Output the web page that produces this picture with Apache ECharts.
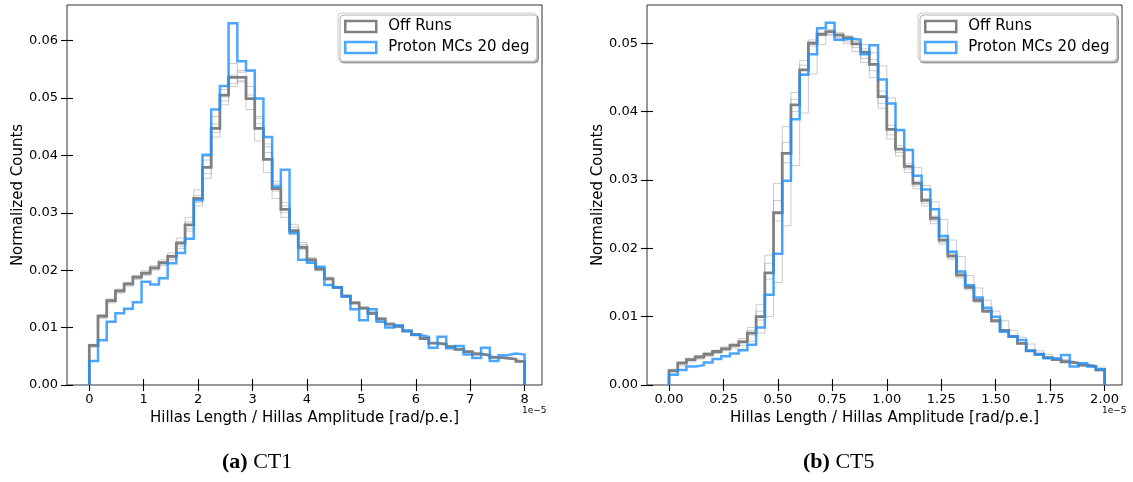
<!DOCTYPE html>
<html><head><meta charset="utf-8">
<script src="https://cdn.jsdelivr.net/npm/echarts@6/dist/echarts.min.js"></script>
<style>html,body{margin:0;padding:0;background:#fff}#c{width:1133px;height:482px}</style>
</head><body><div id="c"></div>
<script>
// ---------- data ----------
const ct1BinStart = 0, ct1BinWidth = 0.16;   // units of 1e-5 rad/p.e.
const ct5BinStart = 0, ct5BinWidth = 0.04;
const ct1XTicks = [0, 1, 2, 3, 4, 5, 6, 7, 8];
const ct1YTicks = [0, 0.01, 0.02, 0.03, 0.04, 0.05, 0.06];
const ct5XTicks = [0, 0.25, 0.5, 0.75, 1, 1.25, 1.5, 1.75, 2];
const ct5YTicks = [0, 0.01, 0.02, 0.03, 0.04, 0.05];
const seriesNames = ['Off Runs', 'Proton MCs 20 deg'];
const xAxisTitle = 'Hillas Length / Hillas Amplitude [rad/p.e.]';
const yAxisTitle = 'Normalized Counts';

const ct1OffRuns = [0.0069,0.0120,0.0147,0.0164,0.0176,0.0188,0.0195,0.0204,0.0213,0.0224,0.0247,0.0279,0.0325,0.0379,0.0447,0.0505,0.0536,0.0536,0.0499,0.0447,0.0393,0.0342,0.0306,0.0269,0.0240,0.0218,0.0202,0.0185,0.0170,0.0155,0.0143,0.0134,0.0125,0.0115,0.0106,0.0102,0.0094,0.0088,0.0081,0.0073,0.0071,0.0067,0.0062,0.0058,0.0054,0.0052,0.0048,0.0047,0.0045,0.0041];
const ct1Proton = [0.0042,0.0078,0.0110,0.0125,0.0133,0.0144,0.0180,0.0175,0.0186,0.0212,0.0230,0.0255,0.0322,0.0401,0.0480,0.0521,0.0630,0.0564,0.0548,0.0499,0.0432,0.0346,0.0375,0.0265,0.0218,0.0213,0.0206,0.0174,0.0170,0.0154,0.0132,0.0113,0.0132,0.0110,0.0100,0.0104,0.0095,0.0087,0.0084,0.0065,0.0084,0.0064,0.0068,0.0053,0.0047,0.0065,0.0042,0.0052,0.0055,0.0053];
const ct1RunA = [0.0071,0.0123,0.0150,0.0167,0.0179,0.0191,0.0199,0.0208,0.0218,0.0230,0.0256,0.0292,0.0340,0.0398,0.0468,0.0515,0.0540,0.0528,0.0480,0.0425,0.0370,0.0325,0.0292,0.0262,0.0236,0.0215,0.0199,0.0183,0.0168,0.0153,0.0141,0.0132,0.0123,0.0114,0.0105,0.0100,0.0093,0.0087,0.0080,0.0073,0.0070,0.0066,0.0061,0.0057,0.0053,0.0051,0.0047,0.0046,0.0044,0.0040];
const ct1RunB = [0.0066,0.0116,0.0143,0.0160,0.0172,0.0184,0.0191,0.0200,0.0208,0.0218,0.0238,0.0268,0.0312,0.0360,0.0432,0.0488,0.0520,0.0548,0.0545,0.0468,0.0420,0.0355,0.0318,0.0280,0.0248,0.0222,0.0205,0.0188,0.0172,0.0157,0.0145,0.0136,0.0127,0.0117,0.0108,0.0103,0.0095,0.0089,0.0082,0.0074,0.0072,0.0068,0.0063,0.0059,0.0055,0.0053,0.0049,0.0048,0.0046,0.0042];
const ct1RunC = [0.0068,0.0121,0.0148,0.0165,0.0177,0.0189,0.0196,0.0205,0.0215,0.0226,0.0250,0.0284,0.0330,0.0392,0.0455,0.0502,0.0560,0.0545,0.0505,0.0455,0.0405,0.0338,0.0300,0.0265,0.0238,0.0217,0.0201,0.0184,0.0169,0.0154,0.0142,0.0133,0.0124,0.0114,0.0105,0.0101,0.0093,0.0087,0.0081,0.0072,0.0070,0.0066,0.0061,0.0057,0.0054,0.0051,0.0048,0.0046,0.0045,0.0041];
const ct1RunD = [0.0067,0.0118,0.0145,0.0162,0.0174,0.0186,0.0193,0.0202,0.0211,0.0221,0.0242,0.0272,0.0318,0.0368,0.0440,0.0495,0.0525,0.0530,0.0520,0.0465,0.0415,0.0350,0.0312,0.0275,0.0245,0.0220,0.0204,0.0187,0.0171,0.0156,0.0144,0.0135,0.0126,0.0116,0.0107,0.0103,0.0095,0.0089,0.0082,0.0074,0.0072,0.0068,0.0063,0.0058,0.0055,0.0052,0.0049,0.0047,0.0045,0.0042];

const ct5OffRuns = [0.0021,0.0032,0.0037,0.0041,0.0045,0.0049,0.0053,0.0058,0.0063,0.0076,0.0100,0.0164,0.0252,0.0339,0.0410,0.0461,0.0500,0.0513,0.0517,0.0512,0.0508,0.0499,0.0487,0.0469,0.0422,0.0374,0.0345,0.0320,0.0295,0.0270,0.0244,0.0212,0.0189,0.0161,0.0143,0.0124,0.0108,0.0094,0.0080,0.0071,0.0061,0.0050,0.0045,0.0040,0.0037,0.0034,0.0032,0.0029,0.0027,0.0022];
const ct5Proton = [0.0015,0.0022,0.0027,0.0029,0.0033,0.0038,0.0042,0.0046,0.0051,0.0059,0.0084,0.0132,0.0192,0.0299,0.0389,0.0454,0.0484,0.0522,0.0530,0.0505,0.0507,0.0505,0.0484,0.0497,0.0447,0.0412,0.0373,0.0344,0.0306,0.0286,0.0257,0.0218,0.0195,0.0166,0.0146,0.0128,0.0113,0.0100,0.0078,0.0071,0.0066,0.0050,0.0045,0.0039,0.0038,0.0044,0.0027,0.0032,0.0027,0.0023];
const ct5RunA = [0.0023,0.0034,0.0039,0.0043,0.0047,0.0051,0.0056,0.0061,0.0068,0.0084,0.0118,0.0190,0.0295,0.0378,0.0428,0.0475,0.0505,0.0514,0.0512,0.0505,0.0500,0.0488,0.0472,0.0450,0.0405,0.0360,0.0335,0.0311,0.0287,0.0262,0.0236,0.0206,0.0184,0.0157,0.0139,0.0121,0.0106,0.0092,0.0079,0.0070,0.0060,0.0049,0.0044,0.0039,0.0036,0.0033,0.0031,0.0028,0.0026,0.0021];
const ct5RunB = [0.0020,0.0031,0.0036,0.0040,0.0044,0.0048,0.0052,0.0057,0.0062,0.0073,0.0095,0.0155,0.0240,0.0325,0.0400,0.0455,0.0496,0.0511,0.0520,0.0514,0.0510,0.0503,0.0492,0.0476,0.0430,0.0380,0.0350,0.0324,0.0298,0.0273,0.0247,0.0215,0.0192,0.0164,0.0145,0.0126,0.0110,0.0095,0.0081,0.0072,0.0062,0.0051,0.0046,0.0041,0.0037,0.0035,0.0032,0.0029,0.0027,0.0022];
const ct5RunC = [0.0022,0.0033,0.0038,0.0042,0.0046,0.0050,0.0054,0.0059,0.0065,0.0080,0.0108,0.0178,0.0270,0.0355,0.0418,0.0468,0.0502,0.0516,0.0515,0.0508,0.0503,0.0494,0.0478,0.0460,0.0412,0.0366,0.0340,0.0316,0.0291,0.0266,0.0240,0.0209,0.0186,0.0159,0.0141,0.0122,0.0107,0.0093,0.0079,0.0070,0.0060,0.0049,0.0044,0.0040,0.0036,0.0034,0.0031,0.0028,0.0026,0.0021];
const ct5RunD = [0.0018,0.0028,0.0034,0.0038,0.0042,0.0046,0.0050,0.0054,0.0058,0.0064,0.0076,0.0100,0.0150,0.0233,0.0321,0.0398,0.0455,0.0498,0.0512,0.0516,0.0511,0.0507,0.0498,0.0486,0.0467,0.0420,0.0372,0.0345,0.0318,0.0292,0.0268,0.0242,0.0212,0.0188,0.0160,0.0142,0.0124,0.0108,0.0094,0.0080,0.0070,0.0060,0.0050,0.0045,0.0040,0.0037,0.0034,0.0031,0.0029,0.0026];

// ---------- helpers ----------
function stepPoints(start, width, vals) {
  const pts = [[start, 0]];
  vals.forEach((v, i) => pts.push([start + i * width, v]));
  const end = start + vals.length * width;
  pts.push([end, vals[vals.length - 1]]);
  pts.push([end, 0]);
  return pts;
}
const FONT = 'DejaVu Sans';
const GRAY = '#808080';
const BLUE = 'rgba(30,144,255,0.8)';
const THIN = 'rgba(128,128,128,0.4)';

function histSeries(name, data, gi, color, width, z) {
  return {
    type: 'line', name: name, xAxisIndex: gi * 2, yAxisIndex: gi * 2,
    data: data, step: 'end', symbol: 'none', silent: true, z: z,
    lineStyle: { color: color, width: width, join: 'miter' },
    itemStyle: { color: color }, emphasis: { disabled: true }
  };
}
function fmt(dec) { return v => v.toFixed(dec); }

function axesFor(gi, xmin, xmax, xticks, xdec, ymax, yticks) {
  const common = { gridIndex: gi, type: 'value', splitLine: { show: false }, axisLine: { show: false, onZero: false } };
  const tickStyle = { color: '#000', width: 1.1 };
  const xs = [
    Object.assign({}, common, {
      position: 'bottom', min: xmin, max: xmax,
      axisTick: { show: true, customValues: xticks, length: 6, lineStyle: tickStyle },
      axisLabel: { show: true, customValues: xticks, formatter: fmt(xdec), margin: 8, color: '#000', fontFamily: FONT, fontSize: 13 },
      name: xAxisTitle, nameLocation: 'middle', nameGap: 25,
      nameTextStyle: { fontFamily: FONT, fontSize: 15, color: '#000' }
    }),
    Object.assign({}, common, {
      position: 'bottom', min: xmin, max: xmax,
      axisTick: { show: true, inside: true, customValues: xticks, length: 6, lineStyle: tickStyle },
      axisLabel: { show: false }
    })
  ];
  const ys = [
    Object.assign({}, common, {
      position: 'left', min: 0, max: ymax,
      axisTick: { show: true, customValues: yticks, length: 6, lineStyle: tickStyle },
      axisLabel: { show: true, customValues: yticks, formatter: fmt(2), margin: 9, color: '#000', fontFamily: FONT, fontSize: 13 },
      name: yAxisTitle, nameLocation: 'middle', nameGap: 40,
      nameTextStyle: { fontFamily: FONT, fontSize: 15, color: '#000' }
    }),
    Object.assign({}, common, {
      position: 'left', min: 0, max: ymax,
      axisTick: { show: true, inside: true, customValues: yticks, length: 6, lineStyle: tickStyle },
      axisLabel: { show: false }
    })
  ];
  return { xs, ys };
}

const a1 = axesFor(0, -0.41, 8.32, ct1XTicks, 0, 0.0662, ct1YTicks);
const a2 = axesFor(1, -0.101, 2.08, ct5XTicks, 2, 0.0556, ct5YTicks);

function legendFor(left) {
  return {
    left: left, top: 13, orient: 'vertical', icon: 'rect',
    itemWidth: 31, itemHeight: 11, itemGap: 6,
    padding: [6, 7, 6, 6],
    backgroundColor: '#ffffff', borderColor: '#cccccc', borderWidth: 1, borderRadius: 4,
    shadowColor: 'rgba(0,0,0,0.3)', shadowOffsetX: 2, shadowOffsetY: 2, shadowBlur: 0,
    selectedMode: false,
    textStyle: { fontFamily: FONT, fontSize: 15, color: '#000', padding: [0, 0, 0, 7] },
    data: [
      { name: seriesNames[0], itemStyle: { color: 'rgba(255,255,255,0)', borderColor: GRAY, borderWidth: 2.5 } },
      { name: seriesNames[1], itemStyle: { color: 'rgba(255,255,255,0)', borderColor: BLUE, borderWidth: 2.5 } }
    ]
  };
}

const series = [];
[ct1RunA, ct1RunB, ct1RunC, ct1RunD].forEach(r => series.push(histSeries('run', stepPoints(ct1BinStart, ct1BinWidth, r), 0, THIN, 1, 1)));
series.push(histSeries(seriesNames[0], stepPoints(ct1BinStart, ct1BinWidth, ct1OffRuns), 0, GRAY, 2.8, 2));
series.push(histSeries(seriesNames[1], stepPoints(ct1BinStart, ct1BinWidth, ct1Proton), 0, BLUE, 2.5, 3));
[ct5RunA, ct5RunB, ct5RunC, ct5RunD].forEach(r => series.push(histSeries('run', stepPoints(ct5BinStart, ct5BinWidth, r), 1, THIN, 1, 1)));
series.push(histSeries(seriesNames[0], stepPoints(ct5BinStart, ct5BinWidth, ct5OffRuns), 1, GRAY, 2.8, 2));
series.push(histSeries(seriesNames[1], stepPoints(ct5BinStart, ct5BinWidth, ct5Proton), 1, BLUE, 2.5, 3));

const chart = echarts.init(document.getElementById('c'), null, { renderer: 'canvas' });
chart.setOption({
  animation: false,
  backgroundColor: '#fff',
  grid: [
    { left: 67, top: 5, width: 475, height: 380, show: true, borderColor: '#333', borderWidth: 1, backgroundColor: 'transparent' },
    { left: 647, top: 5, width: 475, height: 380, show: true, borderColor: '#333', borderWidth: 1, backgroundColor: 'transparent' }
  ],
  xAxis: [...a1.xs, ...a2.xs],
  yAxis: [...a1.ys, ...a2.ys],
  legend: [legendFor(338), legendFor(918)],
  series: series,
  graphic: [
    { type: 'text', left: 522, top: 406, style: { text: '1e\u22125', font: '9px "DejaVu Sans"', fill: '#000' } },
    { type: 'text', left: 1102, top: 406, style: { text: '1e\u22125', font: '9px "DejaVu Sans"', fill: '#000' } },
    { type: 'text', left: 222, top: 451, style: { text: '{b|(a)} CT1', rich: { b: { fontWeight: 'bold', fontFamily: 'Liberation Serif', fontSize: 22 } }, fontFamily: 'Liberation Serif', fontSize: 22, fill: '#000' } },
    { type: 'text', left: 803, top: 451, style: { text: '{b|(b)} CT5', rich: { b: { fontWeight: 'bold', fontFamily: 'Liberation Serif', fontSize: 22 } }, fontFamily: 'Liberation Serif', fontSize: 22, fill: '#000' } }
  ]
});
</script></body></html>
